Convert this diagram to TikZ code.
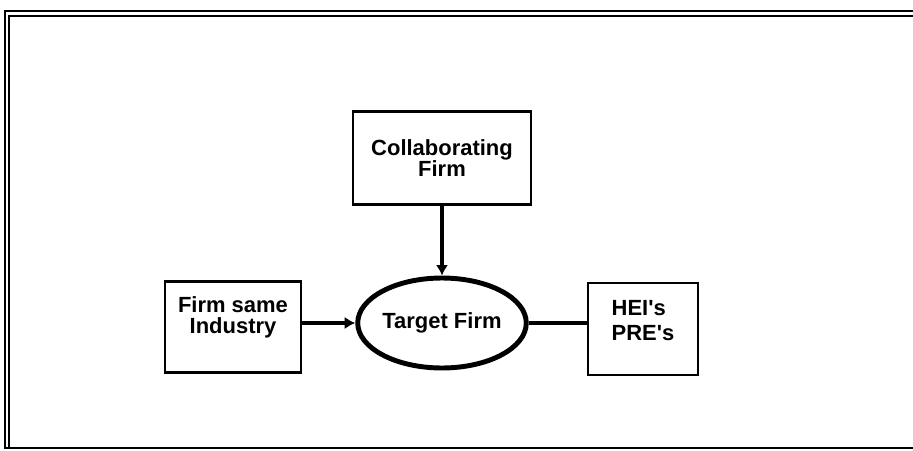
\documentclass[tikz,border=0pt]{standalone}
\usepackage{fontspec}
\setmainfont{Liberation Sans}
\usetikzlibrary{shapes.geometric,arrows.meta}

\begin{document}
\begin{tikzpicture}[x=0.02cm,y=-0.02cm,
  firmbox/.style={draw,line width=1.4pt,inner sep=0pt,align=center,
    font=\bfseries\fontsize{12.5}{12}\selectfont},
  link/.style={line width=2pt},
  tip/.style={-{Latex[length=6pt,width=7pt]}}]
  \useasboundingbox (0,0) rectangle (913,450);
  % double frame, open on the right
  \draw[line width=1.6pt] (913,11) -- (5,11) -- (5,448) -- (913,448);
  \draw[line width=1.1pt] (913,16) -- (9,16) -- (9,448);
  % boxes
  \node[firmbox,minimum width=3.56cm,minimum height=1.86cm] (collab)
    at (442,158) {Collaborating\\Firm};
  \node[firmbox,minimum width=2.72cm,minimum height=1.82cm,text depth=14pt] (same)
    at (233,327) {Firm same\\Industry};
  \node[firmbox,minimum width=2.2cm,minimum height=1.84cm,align=left,
    font=\bfseries\fontsize{12.5}{14}\selectfont,text depth=10pt] (hei)
    at (643,329) {HEI\textquotesingle s\\PRE\textquotesingle s};
  % central firm
  \node[draw,ellipse,line width=2.8pt,inner sep=0pt,minimum width=3.14cm,
    minimum height=1.8cm,font=\bfseries\fontsize{12.5}{12}\selectfont] (target)
    at (442,323) {Target Firm};
  % connectors
  \draw[link,tip] (collab) -- (target);
  \draw[link,tip] (same.east |- target) -- (target);
  \draw[link] (target.east) -- (target.east -| hei.west);
\end{tikzpicture}
\end{document}
